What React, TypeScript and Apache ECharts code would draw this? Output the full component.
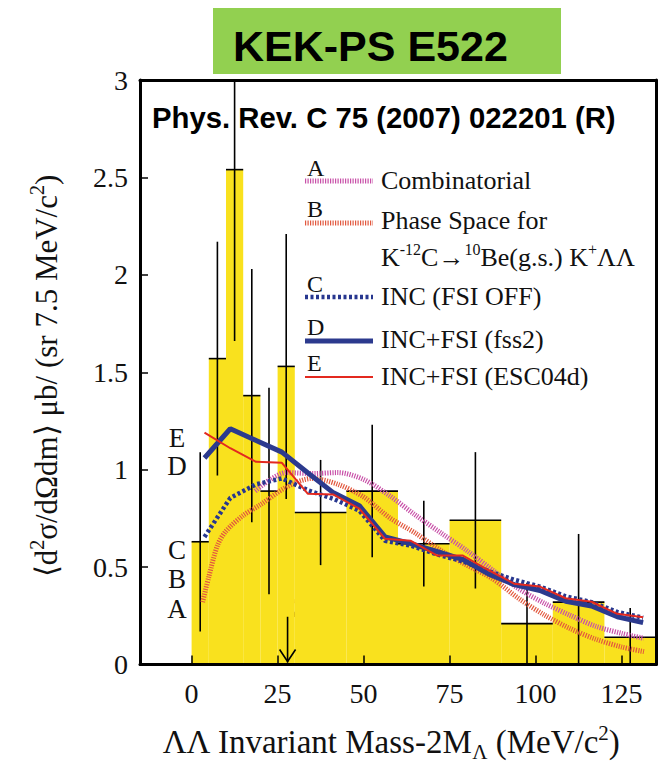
import React, { useEffect, useRef } from "react";
import * as echarts from "echarts";

// Histogram (data): bin edges in MeV/c^2, values and statistical errors
const binEdges = [0, 5, 10, 15, 20, 25, 30, 45, 60, 75, 90, 105, 120, 135];
const binValues = [0.63, 1.57, 2.54, 1.38, 0.89, 1.53, 0.78, 0.89, 0.62, 0.74, 0.21, 0.32, 0.14];
const binErrors = [0.46, 0.6, 0.88, 0.65, 0.53, 0.68, 0.27, 0.34, 0.22, 0.35, 0.21, 0.35, 0.15];

// Model curves sampled at 7.5 MeV bin centres
const modelMass = [3.75, 11.25, 18.75, 26.25, 33.75, 41.25, 48.75, 56.25, 63.75, 71.25, 78.75, 86.25, 93.75, 101.25, 108.75, 116.25, 123.75, 131.25];
const curveC = [0.655, 0.855, 0.925, 0.955, 0.895, 0.85, 0.79, 0.635, 0.61, 0.565, 0.53, 0.48, 0.435, 0.4, 0.35, 0.32, 0.27, 0.24];
const curveD = [1.06, 1.21, 1.15, 1.09, 0.984, 0.881, 0.815, 0.655, 0.62, 0.58, 0.54, 0.465, 0.41, 0.38, 0.325, 0.3, 0.245, 0.215];
const curveE = [1.19, 1.11, 1.04, 1.035, 0.877, 0.872, 0.8, 0.645, 0.635, 0.56, 0.56, 0.485, 0.415, 0.4, 0.34, 0.322, 0.26, 0.242];

// Smooth curves
const phaseMass = [3.2, 5, 7.5, 10, 15, 20, 27.5, 35, 42.5, 50, 57.5, 65, 72.5, 80, 87.5, 95, 102.5, 110, 117.5, 125, 131.5];
const curveB = [0.32, 0.45, 0.61, 0.685, 0.765, 0.82, 0.91, 0.955, 0.925, 0.86, 0.754, 0.675, 0.585, 0.51, 0.44, 0.34, 0.255, 0.185, 0.13, 0.09, 0.066];
const combMass = [18.5, 22.5, 27.5, 35, 42.5, 50, 57.5, 65, 72.5, 80, 87.5, 95, 102.5, 110, 117.5, 125, 131.5];
const curveA = [0.89, 0.945, 0.985, 0.98, 0.985, 0.95, 0.867, 0.768, 0.675, 0.585, 0.485, 0.39, 0.315, 0.253, 0.196, 0.16, 0.134];

const xTicks = [0, 25, 50, 75, 100, 125];
const XI_N_THRESHOLD = 27.9;
const XI_N_ARROW_TOP = 0.245;

const legendLetters = ["A", "B", "C", "D", "E"];
const legendLabels = [
  "Combinatorial",
  "Phase Space for",
  "INC (FSI OFF)",
  "INC+FSI (fss2)",
  "INC+FSI (ESC04d)",
];
const sideLetters = ["E", "D", "C", "B", "A"];

const serif = '"Liberation Serif", "Times New Roman", serif';
const sans = '"Liberation Sans", Arial, sans-serif';

const COL_A = "#c850a8";
const COL_B = "#e2583e";
const COL_C = "#27378f";
const COL_D = "#2c3a8e";
const COL_E = "#e3291f";
const YELLOW = "#f9e11e";

const pairs = (xs: number[], ys: number[]) => xs.map((x, i) => [x, ys[i]]);

export default function App() {
  const ref = useRef<HTMLDivElement>(null);
  useEffect(() => {
    if (!ref.current) return;
    const chart = echarts.init(ref.current, undefined, { renderer: "svg" });

    const histData = binValues.map((v, i) => [binEdges[i], binEdges[i + 1], v, binErrors[i]]);

    const legendY = [
      { letter: 168, line: 181, text: 180 },
      { letter: 209, line: 223, text: 220 },
      { letter: 284, line: 297, text: 296 },
      { letter: 327, line: 341, text: 339 },
      { letter: 363, line: 377, text: 376 },
    ];
    const legendStyles = [
      { stroke: COL_A, lineWidth: 5, lineDash: [1.2, 1.3] },
      { stroke: COL_B, lineWidth: 5, lineDash: [1.2, 1.3] },
      { stroke: COL_C, lineWidth: 4.5, lineDash: [3, 2.5] },
      { stroke: COL_D, lineWidth: 5 },
      { stroke: COL_E, lineWidth: 2 },
    ];
    const sideY = [438, 466, 550, 579, 609];

    const txt = (text: string, x: number, y: number, size: number, extra: any = {}) => ({
      type: "text",
      x,
      y,
      silent: true,
      style: {
        text,
        fill: "#111",
        font: `${size}px ${serif}`,
        verticalAlign: "middle",
        ...extra,
      },
    });

    const graphic: any[] = [
      {
        type: "rect",
        shape: { x: 213, y: 8, width: 348, height: 66 },
        style: { fill: "#92d050" },
        silent: true,
      },
      {
        type: "text",
        x: 233,
        y: 46,
        style: { text: "KEK-PS E522", fill: "#000", font: `bold 43px ${sans}`, verticalAlign: "middle" },
      },
      {
        type: "text",
        x: 152,
        y: 117,
        style: {
          text: "Phys. Rev. C 75 (2007) 022201 (R)",
          fill: "#000",
          font: `bold 29.3px ${sans}`,
          verticalAlign: "middle",
        },
      },
    ];

    legendLetters.forEach((l, i) => {
      graphic.push(txt(l, 307, legendY[i].letter, 24));
      graphic.push({
        type: "line",
        silent: true,
        shape: { x1: 305, y1: legendY[i].line, x2: 373, y2: legendY[i].line },
        style: { ...legendStyles[i] },
      });
      graphic.push(txt(legendLabels[i], 381, legendY[i].text, 26));
    });
    graphic.push({
      type: "text",
      x: 381,
      y: 257,
      silent: true,
      style: {
        text: "{n|K}{s|-12}{n|C→}{s|10}{n|Be(g.s.) K}{s|+}{n|ΛΛ}",
        verticalAlign: "middle",
        rich: {
          n: { fontSize: 26, fontFamily: serif, fill: "#111", color: "#111", lineHeight: 32 },
          s: { fontSize: 16, fontFamily: serif, fill: "#111", color: "#111", verticalAlign: "top", lineHeight: 18 },
        },
      },
    });

    sideLetters.forEach((l, i) => {
      graphic.push(txt(l, 177, sideY[i], 27, { align: "center" }));
    });
    graphic.push(txt("ΞN", 311, 608, 27, { align: "center" }));

    // x axis title
    graphic.push({
      type: "text",
      x: 391,
      y: 742,
      silent: true,
      style: {
        text: "{n|ΛΛ Invariant Mass-2M}{b|Λ}{n| (MeV/c}{s|2}{n|)}",
        align: "center",
        verticalAlign: "middle",
        rich: {
          n: { fontSize: 33, fontFamily: serif, fill: "#111", color: "#111", lineHeight: 40 },
          b: { fontSize: 21, fontFamily: serif, fill: "#111", color: "#111", verticalAlign: "bottom", lineHeight: 18 },
          s: { fontSize: 21, fontFamily: serif, fill: "#111", color: "#111", verticalAlign: "top", lineHeight: 18 },
        },
      },
    });
    // y axis title
    graphic.push({
      type: "text",
      x: 46,
      y: 376,
      rotation: Math.PI / 2,
      silent: true,
      style: {
        text: "{n|⟨d}{s|2}{n|σ/dΩdm⟩ μb/ (sr 7.5 MeV/c}{s|2}{n|)}",
        align: "center",
        verticalAlign: "middle",
        rich: {
          n: { fontSize: 31, fontFamily: serif, fill: "#111", color: "#111", lineHeight: 38 },
          s: { fontSize: 20, fontFamily: serif, fill: "#111", color: "#111", verticalAlign: "top", lineHeight: 18 },
        },
      },
    });

    const axisLabelStyle = { color: "#111", fontFamily: serif, fontSize: 28 };

    chart.setOption({
      animation: false,
      backgroundColor: "#fff",
      grid: { left: 140, right: 2, top: 80, bottom: 98.5, containLabel: false },
      xAxis: [
        {
          type: "value",
          min: -15,
          max: 135,
          z: 10,
          axisLine: { show: true, onZero: false, lineStyle: { color: "#000", width: 3 } },
          axisTick: { show: true, inside: true, length: 9, customValues: xTicks, lineStyle: { color: "#000", width: 1.5 } },
          axisLabel: { ...axisLabelStyle, margin: 15, customValues: xTicks },
          splitLine: { show: false },
        },
        {
          type: "value",
          position: "top",
          min: -15,
          max: 135,
          z: 10,
          axisLine: { show: true, onZero: false, lineStyle: { color: "#000", width: 3 } },
          axisTick: { show: false },
          axisLabel: { show: false },
          splitLine: { show: false },
        },
      ],
      yAxis: [
        {
          type: "value",
          min: 0,
          max: 3,
          interval: 0.5,
          z: 10,
          axisLine: { show: true, onZero: false, lineStyle: { color: "#000", width: 3 } },
          axisTick: { show: true, inside: true, length: 8, lineStyle: { color: "#000", width: 1.5 } },
          axisLabel: { ...axisLabelStyle, margin: 12 },
          splitLine: { show: false },
        },
        {
          type: "value",
          position: "right",
          min: 0,
          max: 3,
          z: 10,
          axisLine: { show: true, onZero: false, lineStyle: { color: "#000", width: 3 } },
          axisTick: { show: false },
          axisLabel: { show: false },
          splitLine: { show: false },
        },
      ],
      graphic,
      series: [
        {
          type: "custom",
          name: "histogram",
          z: 1,
          dimensions: ["x0", "x1", "y", "err"],
          encode: { x: [0, 1], y: 2 },
          data: histData,
          renderItem: (_p: any, api: any) => {
            const a = api.coord([api.value(0), api.value(2)]);
            const b = api.coord([api.value(1), 0]);
            return {
              type: "rect",
              shape: { x: a[0], y: a[1], width: b[0] - a[0], height: b[1] - a[1] },
              style: { fill: YELLOW },
            };
          },
        },
        {
          type: "custom",
          name: "errors",
          z: 2,
          dimensions: ["x0", "x1", "y", "err"],
          encode: { x: [0, 1], y: 2 },
          data: histData,
          renderItem: (_p: any, api: any) => {
            const x0 = api.value(0);
            const x1 = api.value(1);
            const y = api.value(2);
            const e = api.value(3);
            const xc = (x0 + x1) / 2;
            const l = api.coord([x0, y]);
            const r = api.coord([x1, y]);
            const t = api.coord([xc, Math.min(3, y + e)]);
            const bt = api.coord([xc, Math.max(0, y - e)]);
            const st = { stroke: "#000", lineWidth: 1.6 };
            return {
              type: "group",
              children: [
                { type: "line", shape: { x1: l[0], y1: l[1], x2: r[0], y2: r[1] }, style: st },
                { type: "line", shape: { x1: t[0], y1: t[1], x2: bt[0], y2: bt[1] }, style: st },
              ],
            };
          },
        },
        {
          type: "custom",
          name: "XiN",
          z: 2,
          data: [[XI_N_THRESHOLD, XI_N_ARROW_TOP]],
          renderItem: (_p: any, api: any) => {
            const top = api.coord([api.value(0), api.value(1)]);
            const bot = api.coord([api.value(0), 0]);
            const st = { stroke: "#000", lineWidth: 1.6, fill: "none" };
            return {
              type: "group",
              children: [
                { type: "line", shape: { x1: top[0], y1: top[1], x2: bot[0], y2: bot[1] - 2 }, style: st },
                {
                  type: "polyline",
                  shape: { points: [[bot[0] - 8, bot[1] - 15], [bot[0], bot[1] - 3], [bot[0] + 8, bot[1] - 15]] },
                  style: st,
                },
              ],
            };
          },
        },
        {
          type: "line",
          name: "A",
          z: 3,
          data: pairs(combMass, curveA),
          smooth: 0.3,
          symbol: "none",
          lineStyle: { color: COL_A, width: 5, type: [1.2, 1.3] },
        },
        {
          type: "line",
          name: "B",
          z: 3,
          data: pairs(phaseMass, curveB),
          smooth: 0.3,
          symbol: "none",
          lineStyle: { color: COL_B, width: 5, type: [1.2, 1.3] },
        },
        {
          type: "line",
          name: "C",
          z: 4,
          data: pairs(modelMass, curveC),
          symbol: "none",
          lineStyle: { color: COL_C, width: 4.5, type: [3, 2.5] },
        },
        {
          type: "line",
          name: "D",
          z: 4,
          data: pairs(modelMass, curveD),
          symbol: "none",
          lineStyle: { color: COL_D, width: 5 },
        },
        {
          type: "line",
          name: "E",
          z: 5,
          data: pairs(modelMass, curveE),
          symbol: "none",
          lineStyle: { color: COL_E, width: 2 },
        },
      ],
    });
    return () => chart.dispose();
  }, []);
  return (
    <div
      ref={ref}
      style={{ position: "absolute", left: 0, top: 0, width: 658, height: 763, background: "#fff" }}
    />
  );
}
